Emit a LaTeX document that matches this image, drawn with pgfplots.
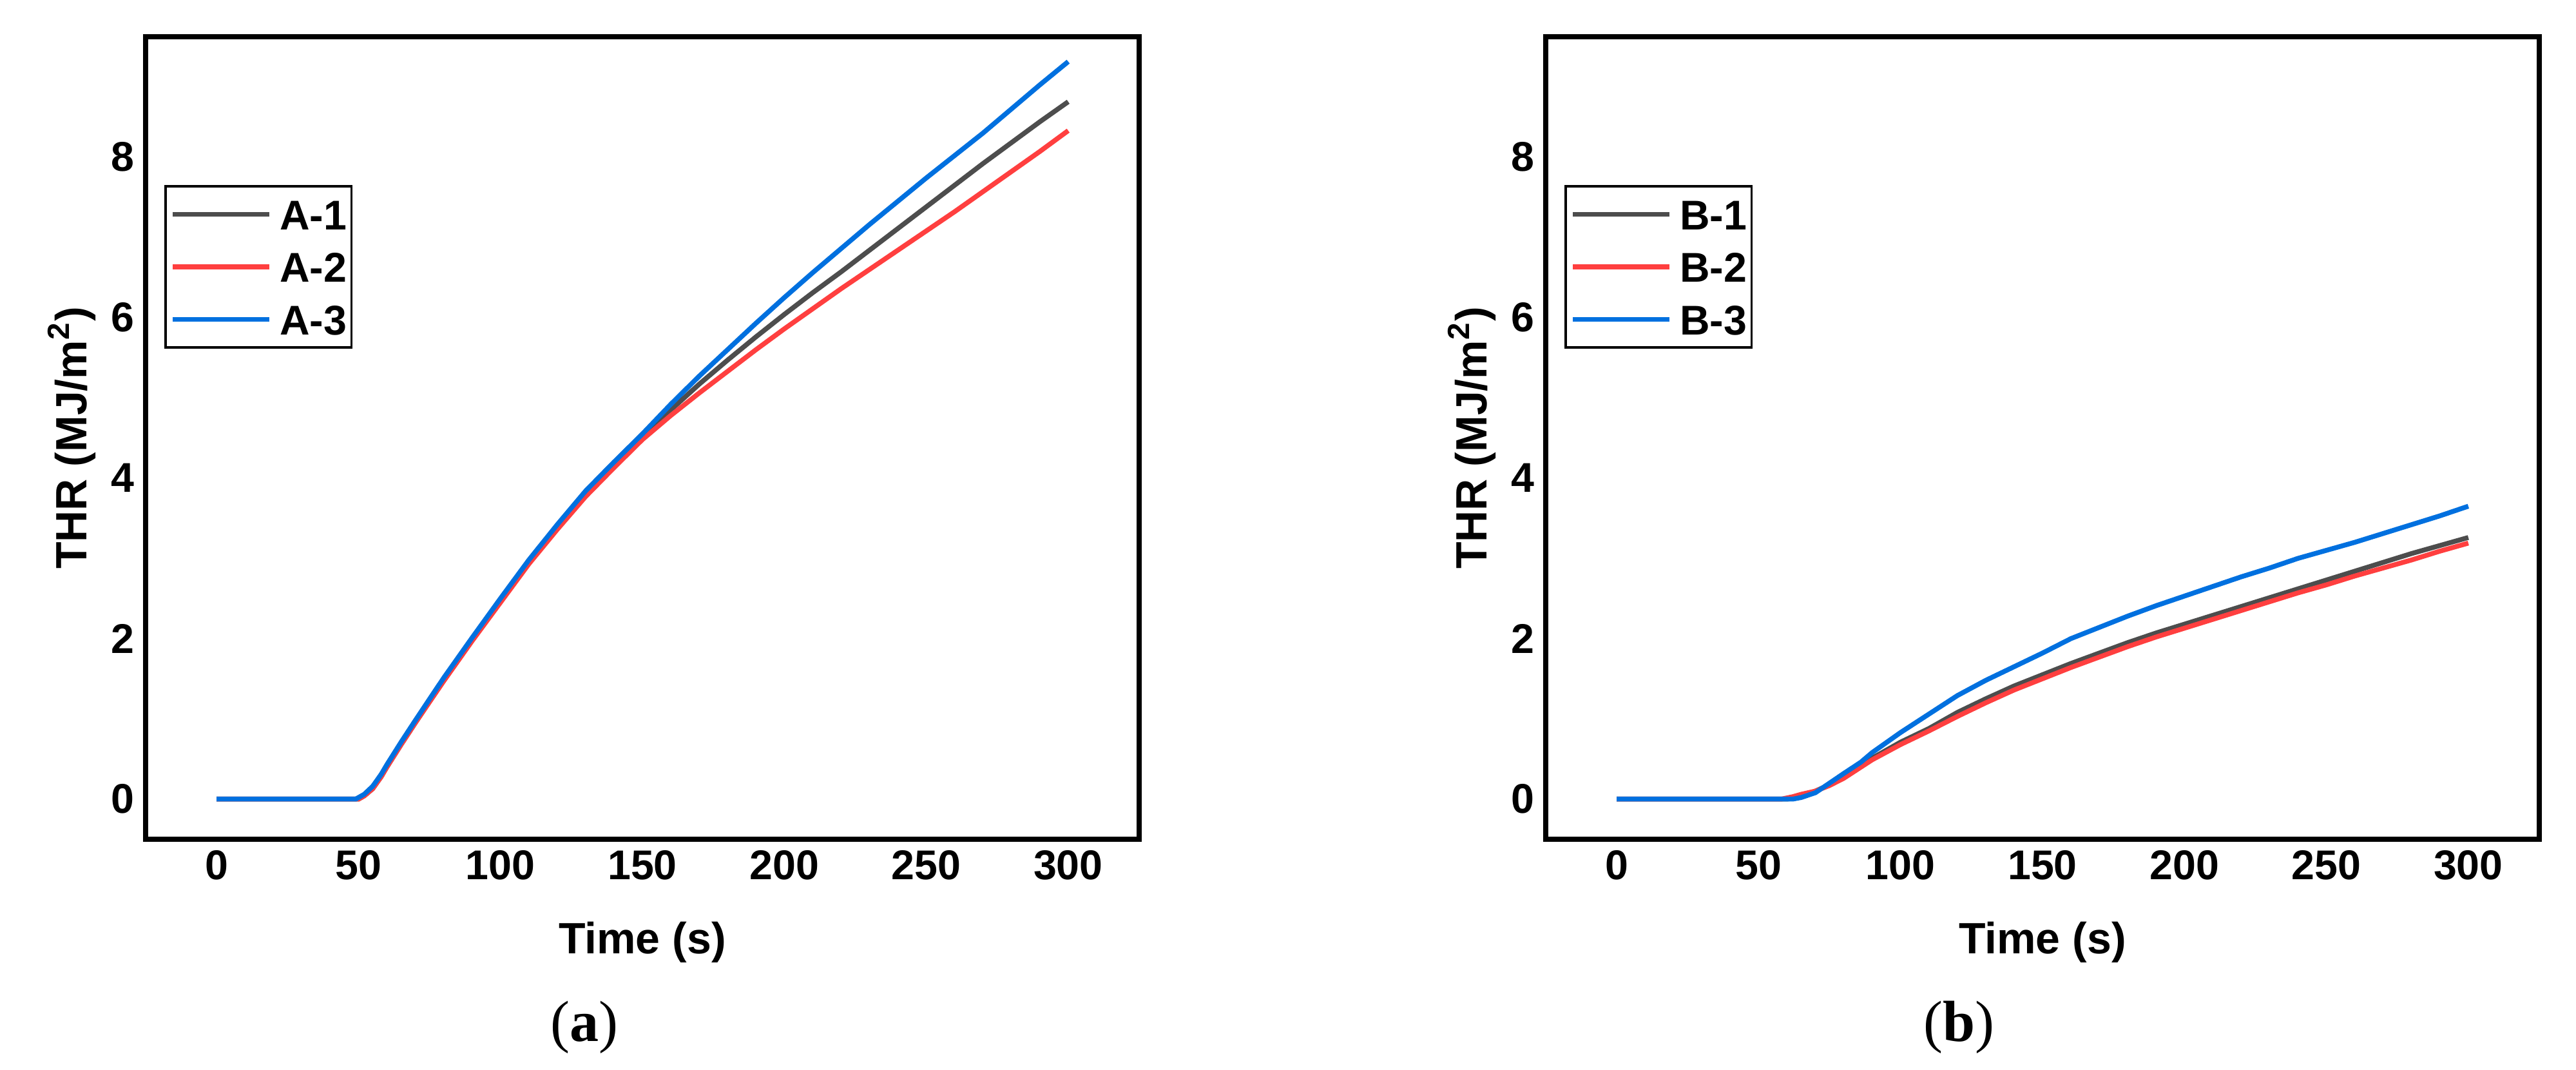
\documentclass[border=0pt]{standalone}
\usepackage{fontspec}
\setmainfont{Liberation Sans}
\newfontfamily\capfont{Liberation Serif}
\usepackage{pgfplots}
\pgfplotsset{compat=1.18}

\definecolor{cGray}{HTML}{4D4D4D}
\definecolor{cRed}{HTML}{FF3F3F}
\definecolor{cBlue}{HTML}{0070DF}

\newcommand{\lblfont}{\fontsize{13.6}{16}\selectfont\bfseries}
\newcommand{\tckfont}{\fontsize{12.9}{15}\selectfont\bfseries}

\pgfplotsset{thr/.style={
  width=308.4pt, height=249pt, scale only axis,
  xmin=-25, xmax=325, ymin=-0.5, ymax=9.5,
  xtick={0,50,...,300}, ytick={0,2,4,6,8},
  major tick length=0pt,
  axis line style={line width=1.6pt},
  /pgf/number format/assume math mode=true,
  tick label style={font=\tckfont},
  label style={font=\lblfont},
  xlabel={Time (s)},
  ylabel={THR (MJ/m\textsuperscript{2})},
  xlabel style={yshift=-6pt},
  ylabel style={yshift=-2pt},
  legend cell align=left,
  legend style={at={(rel axis cs:0.019,0.815)}, anchor=north west,
    draw=black, line width=0.7pt, inner xsep=1.5pt, inner ysep=4pt,
    row sep=6.9pt, font=\tckfont,
    nodes={inner sep=0pt, text height=9.4pt, text depth=0pt},
    /tikz/every odd column/.append style={column sep=2.4pt}},
  legend image code/.code={\draw[#1,line width=1.5pt] (0pt,0pt) -- (30pt,0pt);},
  every axis plot/.append style={line width=1.5pt},
}}

\begin{document}
\begin{tikzpicture}
\path[use as bounding box] (-45.2pt,11.4pt) rectangle (754.4pt,-320.4pt);

\begin{axis}[thr, name=a, at={(0pt,0pt)}, anchor=north west]
  \addplot[color=cGray] coordinates {
    (0,0) (10,0) (20,0) (30,0) (40,0) (50,0) (52,0.04) (55,0.13) (58,0.28) (60,0.4)
    (65,0.68) (70,0.95) (80,1.48) (90,1.98) (100,2.47) (110,2.95) (120,3.38) (130,3.8)
    (140,4.17) (150,4.52) (160,4.85) (170,5.17) (180,5.47) (190,5.76) (200,6.04)
    (210,6.31) (220,6.57) (230,6.84) (240,7.11) (250,7.38) (260,7.65) (270,7.92)
    (280,8.18) (290,8.44) (300,8.69)
  };
  \addlegendentry{A-1}
  \addplot[color=cRed] coordinates {
    (0,0) (10,0) (20,0) (30,0) (40,0) (50,0) (52,0.04) (55,0.13) (58,0.28) (60,0.4)
    (65,0.68) (70,0.95) (80,1.47) (90,1.97) (100,2.45) (110,2.93) (120,3.36) (130,3.77)
    (140,4.13) (150,4.48) (160,4.78) (170,5.06) (180,5.33) (190,5.6) (200,5.86)
    (210,6.11) (220,6.36) (230,6.6) (240,6.84) (250,7.08) (260,7.32) (270,7.57)
    (280,7.82) (290,8.07) (300,8.33)
  };
  \addlegendentry{A-2}
  \addplot[color=cBlue] coordinates {
    (0,0) (10,0) (20,0) (30,0) (40,0) (49,0) (52,0.06) (55,0.16) (58,0.31) (60,0.43)
    (65,0.71) (70,0.98) (80,1.51) (90,2.01) (100,2.5) (110,2.98) (120,3.42) (130,3.84)
    (140,4.2) (150,4.55) (160,4.92) (170,5.27) (180,5.6) (190,5.93) (200,6.25)
    (210,6.56) (220,6.86) (230,7.16) (240,7.45) (250,7.74) (260,8.02) (270,8.3)
    (280,8.6) (290,8.9) (300,9.19)
  };
  \addlegendentry{A-3}
\end{axis}

\begin{axis}[thr, name=b, at={(434.6pt,0pt)}, anchor=north west]
  \addplot[color=cGray] coordinates {
    (0,0) (10,0) (20,0) (30,0) (40,0) (50,0) (60,0) (62,0.01) (65,0.04) (70,0.1)
    (75,0.18) (80,0.28) (90,0.51) (100,0.71) (110,0.88) (120,1.08) (130,1.25)
    (140,1.41) (150,1.55) (160,1.69) (170,1.82) (180,1.95) (190,2.07) (200,2.18)
    (210,2.29) (220,2.4) (230,2.51) (240,2.62) (250,2.73) (260,2.84) (270,2.95)
    (280,3.06) (290,3.16) (300,3.26)
  };
  \addlegendentry{B-1}
  \addplot[color=cRed] coordinates {
    (0,0) (10,0) (20,0) (30,0) (40,0) (50,0) (58,0) (62,0.03) (65,0.06) (70,0.1)
    (75,0.17) (80,0.26) (90,0.49) (100,0.68) (110,0.85) (120,1.03) (130,1.2)
    (140,1.36) (150,1.5) (160,1.64) (170,1.77) (180,1.9) (190,2.02) (200,2.13)
    (210,2.24) (220,2.35) (230,2.46) (240,2.57) (250,2.67) (260,2.78) (270,2.88)
    (280,2.98) (290,3.09) (300,3.19)
  };
  \addlegendentry{B-2}
  \addplot[color=cBlue] coordinates {
    (0,0) (10,0) (20,0) (30,0) (40,0) (50,0) (62,0) (65,0.02) (70,0.08) (75,0.2)
    (80,0.32) (86,0.46) (90,0.58) (100,0.83) (110,1.06) (120,1.29) (130,1.48)
    (140,1.65) (150,1.82) (160,2.0) (170,2.14) (180,2.28) (190,2.41) (200,2.53)
    (210,2.65) (220,2.77) (230,2.88) (240,3.0) (250,3.1) (260,3.2) (270,3.31)
    (280,3.42) (290,3.53) (300,3.65)
  };
  \addlegendentry{B-3}
\end{axis}

\node[font=\capfont\fontsize{18}{20}\selectfont] at ([xshift=136.2pt,yshift=-58.4pt]a.south west) {(\textbf{a})};
\node[font=\capfont\fontsize{18}{20}\selectfont] at ([xshift=128.2pt,yshift=-58.4pt]b.south west) {(\textbf{b})};
\end{tikzpicture}
\end{document}
